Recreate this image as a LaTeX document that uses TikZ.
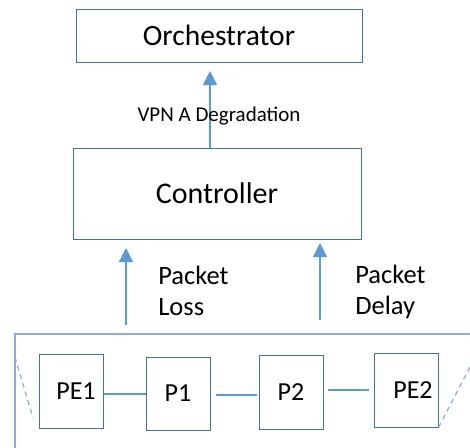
\documentclass[tikz,border=0pt]{standalone}
\usepackage{fontspec}
\setmainfont{Carlito}
\usetikzlibrary{arrows.meta}
\definecolor{boxline}{HTML}{41719C}
\definecolor{arrowblue}{HTML}{5B9BD5}
\definecolor{netline}{HTML}{8FAADC}

\begin{document}
\begin{tikzpicture}[x=1pt, y=-1pt, semithick]
  \tikzstyle{block}=[draw=boxline,line width=1pt,fill=white,text=black,inner sep=0pt]
  \tikzstyle{router}=[block,minimum width=64pt,minimum height=74pt,font=\fontsize{26}{30}\selectfont]
  \tikzstyle{report}=[-{Triangle[width=14pt,length=14pt]},color=arrowblue,line width=1.2pt]
  \tikzstyle{link}=[color=arrowblue,line width=1.2pt]
  \tikzstyle{tag}=[text=black,inner sep=0pt,align=left,font=\fontsize{26.5}{31}\selectfont]
  \tikzstyle{edgeline}=[color=netline,line width=1.2pt]

  \useasboundingbox (0,0) rectangle (470,447);
  \clip (0,0) rectangle (470,447);

  % management boxes
  \node[block,minimum width=286pt,minimum height=53pt,font=\fontsize{29.5}{32}\selectfont] (orch) at (219,35.5) {\raisebox{-2pt}{Orchestrator}};
  \node[block,minimum width=288pt,minimum height=91pt,font=\fontsize{30}{32}\selectfont] (ctrl) at (217,193.5) {\raisebox{-2pt}{Controller}};

  % network
  \draw[edgeline] (15,460) |- (480,334);
  \node[router] (pe1) at (71.5,391) {\hspace{9pt}PE1};
  \node[router,minimum height=73pt] (p1) at (178,393.5) {\raisebox{-3pt}{P1}};
  \node[router] (p2) at (291,392) {P2};
  \node[router] (pe2) at (406,390) {\hspace{14pt}PE2};

  \coordinate (vpnTip) at (210,71);
  \coordinate (lossTip) at (126,248);
  \coordinate (lossBase) at (126,325);
  \coordinate (delayTip) at (320,243);
  \coordinate (delayBase) at (320,320);
  \coordinate (dashL) at (15,357);
  \coordinate (dashLend) at (33,418);
  \coordinate (dashR) at (470,367);

  \draw[report] (ctrl.north -| vpnTip) -- (vpnTip);
  \draw[report] (lossBase) -- (lossTip);
  \draw[report] (delayBase) -- (delayTip);

  \node[tag,font=\fontsize{21}{24}\selectfont] (vpn) at (219,116) {VPN A Degradation};
  \node[tag,anchor=west] (loss) at (158,291) {Packet\\Loss};
  \node[tag,anchor=west] (delay) at (355,292) {Packet\\Delay};

  \draw[link] (pe1.east |- 0,394) -- (p1.west |- 0,394);
  \draw[link] (216,395) -- (257,395);
  \draw[link] (328,390) -- (369,390);

  \draw[edgeline,dash pattern=on 5pt off 4pt] (dashL) -- (dashLend);
  \draw[edgeline,dash pattern=on 5pt off 4pt] (dashR) -- (pe2.south east);
\end{tikzpicture}
\end{document}
